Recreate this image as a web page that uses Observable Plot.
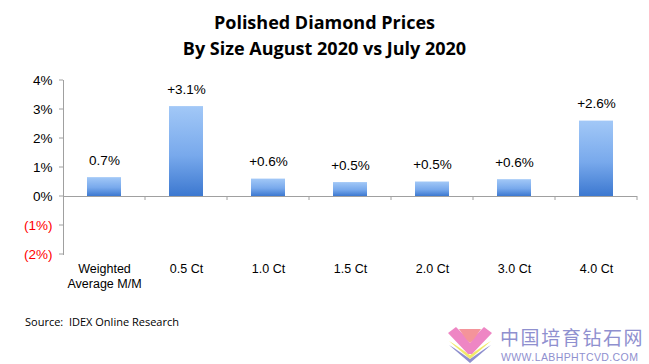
<!DOCTYPE html>
<html>
<head>
<meta charset="utf-8">
<script src="https://cdn.jsdelivr.net/npm/d3@7"></script>
<script src="https://cdn.jsdelivr.net/npm/@observablehq/plot@0.6"></script>
<style>
  html, body { margin: 0; padding: 0; background: #fff; }
  #wrap { position: relative; width: 649px; height: 364px; overflow: hidden; font-family: "Liberation Sans", Arial, sans-serif; }
  #title { text-align: center; font-family: "Open Sans", "Noto Sans", sans-serif; font-weight: bold; font-size: 18px; line-height: 26px; padding-top: 9px; height: 53px; color: #000; }
  #source { position: absolute; left: 25px; top: 314px; font-family: "Open Sans", "Noto Sans", sans-serif; font-size: 11px; color: #000; }
  #wm { position: absolute; left: 446px; top: 325px; }
  #wmcn { position: absolute; left: 500px; top: 326px; font-family: "Noto Sans CJK SC", sans-serif; font-size: 19px; letter-spacing: 1.6px; color: #8f90cf; line-height: 21px; height: 21px; white-space: nowrap; }
  #wmen { position: absolute; left: 501px; top: 352px; font-family: "Liberation Sans", Arial, sans-serif; font-size: 10.5px; letter-spacing: 0.4px; color: #8f90cf; line-height: 11px; white-space: nowrap; }
</style>
</head>
<body>
<div id="wrap">
  <div id="title">Polished Diamond Prices<br>By Size August 2020 vs July 2020</div>
  <div id="chart"></div>
  <div id="source">Source:&nbsp; IDEX Online Research</div>
  <svg id="wm" width="48" height="38" viewBox="0 0 48 38">
    <polygon points="3,20 24,38 45,20 40,23 24,34 8,23" fill="#8f90cf"/>
    <polygon points="3,16 24,34 45,16 40,19 24,30 8,19" fill="#f2ea6a"/>
    <polygon points="2,8 10,2 18,10 24,18 30,10 38,2 46,8 26,29 22,29" fill="#ee86c4"/>
    <polygon points="13,4 35,4 28,14 24,18 20,14" fill="#f4949a"/>
  </svg>
  <div id="wmcn">中国培育钻石网</div>
  <div id="wmen">WWW.LABHPHTCVD.COM</div>
</div>
<script>
const categories = ["Weighted\nAverage M/M", "0.5 Ct", "1.0 Ct", "1.5 Ct", "2.0 Ct", "3.0 Ct", "4.0 Ct"];
const values = [0.65, 3.1, 0.6, 0.48, 0.5, 0.58, 2.6];
const valueLabels = ["0.7%", "+3.1%", "+0.6%", "+0.5%", "+0.5%", "+0.6%", "+2.6%"];
const yTicks = [4, 3, 2, 1, 0, -1, -2];
const yTickLabels = ["4%", "3%", "2%", "1%", "0%", "(1%)", "(2%)"];

const data = categories.map((c, i) => ({cat: c, v: values[i], label: valueLabels[i]}));
const ticks = yTicks.map((t, i) => ({t, label: yTickLabels[i]}));

const chart = Plot.plot({
  width: 649,
  height: 240,
  marginTop: 18,
  marginBottom: 48,
  marginLeft: 63,
  marginRight: 12,
  style: {fontFamily: "'Liberation Sans', Arial, sans-serif", fontSize: "12px", color: "#000", background: "transparent"},
  x: {domain: categories, paddingInner: 0.585, paddingOuter: 0.2925, axis: null},
  y: {domain: [-2, 4], axis: null},
  marks: [
    Plot.frame({anchor: "left", stroke: "#a0a0a0"}),
    Plot.text(ticks, {y: "t", text: "label", frameAnchor: "left", dx: -11, textAnchor: "end",
      fill: d => d.t < 0 ? "red" : "black", fontSize: 13.5}),
    Plot.barY(data, {x: "cat", y: "v", fill: "url(#barGrad)"}),
    Plot.ruleY([0], {stroke: "#a0a0a0"}),
    Plot.text(data, {x: "cat", y: "v", text: "label", dy: -13, lineAnchor: "bottom", fontSize: 13.5}),
    Plot.axisX({anchor: "bottom", tickSize: 0, tickPadding: 8, fontSize: 12.5, lineHeight: 1.2, label: null})
  ]
});

// gradient definition and band-boundary ticks on zero line
const svg = d3.select(chart);
const defs = svg.insert("defs", ":first-child");
const g = defs.append("linearGradient").attr("id", "barGrad").attr("x1", 0).attr("y1", 0).attr("x2", 0).attr("y2", 1);
g.append("stop").attr("offset", "0%").attr("stop-color", "#a2c8f7");
g.append("stop").attr("offset", "55%").attr("stop-color", "#78a9ec");
g.append("stop").attr("offset", "100%").attr("stop-color", "#3c78d0");

const xs = chart.scale("x");
const ys = chart.scale("y");
const y0 = ys.apply(0);
const half = (xs.step - xs.bandwidth) / 2;
const bounds = categories.map(c => xs.apply(c) - half).concat([xs.apply(categories[categories.length - 1]) + xs.bandwidth + half]);
svg.append("g").selectAll("line").data(bounds.slice(1)).join("line")
  .attr("x1", d => d).attr("x2", d => d).attr("y1", y0).attr("y2", y0 + 4)
  .attr("stroke", "#a0a0a0");
// left y tick marks
svg.append("g").selectAll("line").data(yTicks).join("line")
  .attr("x1", 59).attr("x2", 63).attr("y1", d => ys.apply(d)).attr("y2", d => ys.apply(d))
  .attr("stroke", "#a0a0a0");

document.getElementById("chart").appendChild(chart);
</script>
</body>
</html>
